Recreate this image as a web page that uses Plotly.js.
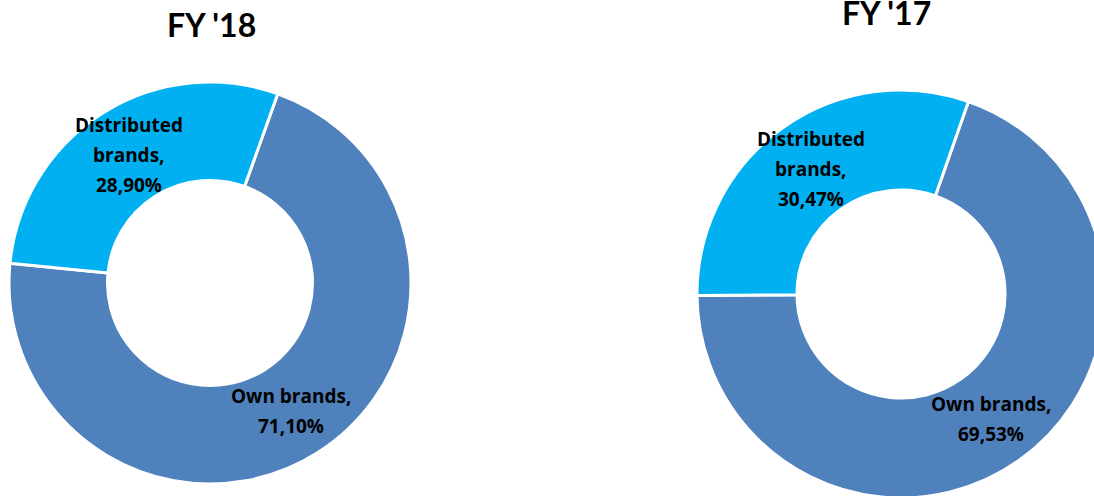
<!DOCTYPE html>
<html><head><meta charset="utf-8">
<script src="https://cdn.plot.ly/plotly-3.0.1.min.js"></script>
<style>html,body{margin:0;padding:0;overflow:hidden;background:#fff}#chart{width:1110px;height:500px}</style>
</head><body><div id="chart"></div>
<script>
// ---- data ----
const categories = ['Own brands', 'Distributed brands'];
const labelLines = [['Own brands,'], ['Distributed', 'brands,']];
const fy18Values = [71.10, 28.90];
const fy17Values = [69.53, 30.47];
const pieTitles = ["FY '18", "FY '17"];
const sliceColors = ['#4F81BD', '#00B0F0'];

// ---- layout helpers ----
const W = 1110, H = 500;
const TITLE_FONT = 'Lato, "Open Sans", "DejaVu Sans", sans-serif';
const LABEL_FONT = '"Open Sans", Lato, "DejaVu Sans", sans-serif';
const pies = [
  {values: fy18Values, title: pieTitles[0], cx: 210, cy: 283, r: 201, rot: 19.7, tx: 211, ty: 24},
  {values: fy17Values, title: pieTitles[1], cx: 901, cy: 294, r: 204, rot: 19.3, tx: 886, ty: 12}
];
const HOLE = 0.51;
const LINE_GAP = 30;

function fmt(v) { return v.toFixed(2).replace('.', ',') + '%'; }

const traces = [];
const annotations = [];
pies.forEach(p => {
  traces.push({
    type: 'pie',
    labels: categories,
    values: p.values,
    sort: false,
    direction: 'clockwise',
    rotation: p.rot,
    hole: HOLE,
    textinfo: 'none',
    hoverinfo: 'none',
    showlegend: false,
    marker: {colors: sliceColors, line: {color: '#ffffff', width: 3}},
    domain: {
      x: [(p.cx - p.r) / W, (p.cx + p.r) / W],
      y: [(H - p.cy - p.r) / H, (H - p.cy + p.r) / H]
    }
  });
  annotations.push({
    text: p.title, xref: 'paper', yref: 'paper',
    x: p.tx / W, y: 1 - p.ty / H, xanchor: 'center', yanchor: 'middle',
    showarrow: false,
    font: {family: TITLE_FONT, size: 32, weight: 'bold', color: '#000'}
  });
  const total = p.values.reduce((a, b) => a + b, 0);
  let cum = 0;
  p.values.forEach((v, i) => {
    const mid = (p.rot + (cum + v / 2) / total * 360) * Math.PI / 180;
    cum += v;
    const rm = p.r * (1 + HOLE) / 2;
    const px = p.cx + rm * Math.sin(mid);
    const py = p.cy - rm * Math.cos(mid);
    const lines = labelLines[i].concat([fmt(v)]);
    lines.forEach((t, k) => {
      annotations.push({
        text: t, xref: 'paper', yref: 'paper',
        x: px / W, y: 1 - py / H, xanchor: 'center', yanchor: 'middle',
        yshift: ((lines.length - 1) / 2 - k) * LINE_GAP,
        showarrow: false,
        font: {family: LABEL_FONT, size: 19, weight: 'bold', color: '#000'}
      });
    });
  });
});

Plotly.newPlot('chart', traces, {
  width: W, height: H,
  margin: {l: 0, r: 0, t: 0, b: 0},
  paper_bgcolor: '#ffffff',
  plot_bgcolor: '#ffffff',
  annotations: annotations
}, {staticPlot: true, displayModeBar: false});
</script>
</body></html>
